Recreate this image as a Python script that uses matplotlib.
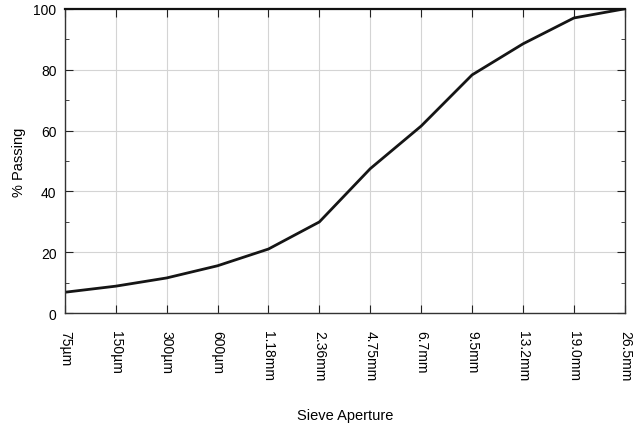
import matplotlib.pyplot as plt
from matplotlib.ticker import MultipleLocator

plt.rcParams['font.family'] = ['Liberation Sans', 'DejaVu Sans']

# Sieve sizes and percent passing
sieves = ['75µm', '150µm', '300µm', '600µm', '1.18mm', '2.36mm',
          '4.75mm', '6.7mm', '9.5mm', '13.2mm', '19.0mm', '26.5mm']
passing = [6.9, 8.9, 11.6, 15.6, 21.1, 30.0, 47.5, 61.5, 78.3, 88.5, 97.0, 100.0]

fig = plt.figure(figsize=(6.35, 4.27), dpi=100)
ax = fig.add_axes([0.102, 0.264, 0.882, 0.713])

x = list(range(len(sieves)))
ax.plot(x, passing, color='#151515', linewidth=2.0, solid_joinstyle='round')

ax.set_xlim(0, len(sieves) - 1)
ax.set_ylim(0, 100)
ax.set_xticks(x)
ax.set_xticklabels(sieves, rotation=270, fontsize=10)
ax.yaxis.set_major_locator(MultipleLocator(20))
ax.yaxis.set_minor_locator(MultipleLocator(10))
ax.tick_params(axis='y', labelsize=10, pad=6)
ax.tick_params(which='both', direction='in', top=True, right=True, color='#222222')
ax.tick_params(which='major', length=6)
ax.tick_params(which='minor', length=3)
ax.tick_params(axis='x', pad=12)

ax.grid(True, which='major', color='#d4d4d4', linewidth=0.8)
ax.set_axisbelow(True)
for side in ['left', 'bottom', 'right']:
    ax.spines[side].set_color('#333333')
    ax.spines[side].set_linewidth(1.0)
ax.spines['top'].set_color('#111111')
ax.spines['top'].set_linewidth(1.6)

ax.set_ylabel('% Passing', fontsize=10.5, labelpad=5)
ax.set_xlabel('Sieve Aperture', fontsize=10.5, labelpad=20)

plt.savefig('out.png', dpi=100)
